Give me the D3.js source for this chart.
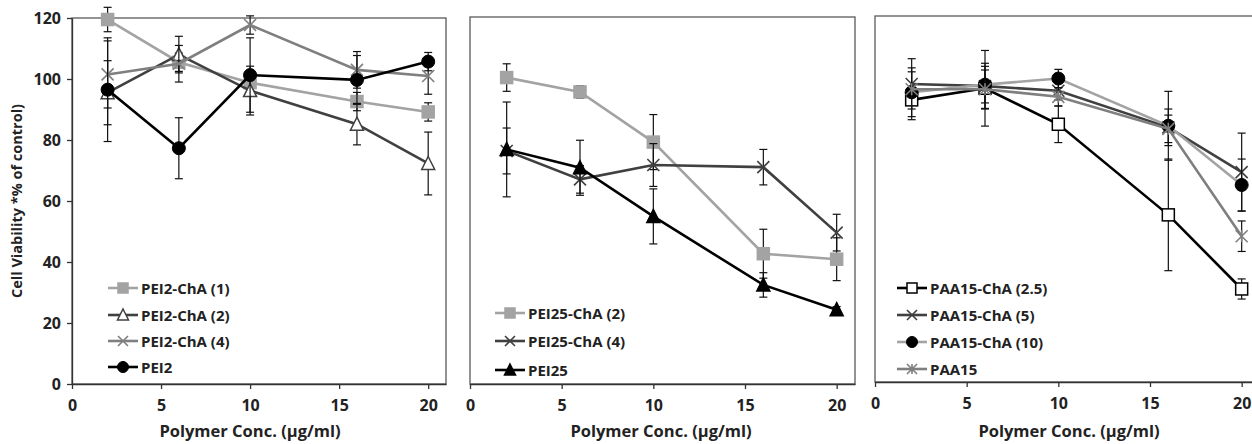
<!DOCTYPE html>
<html>
<head>
<meta charset="utf-8">
<script src="https://cdn.jsdelivr.net/npm/d3@7/dist/d3.min.js"></script>
<style>
  html, body { margin: 0; padding: 0; background: #fff; }
  svg { display: block; }
  text { font-family: "Open Sans", "Noto Sans", sans-serif; font-weight: 700; fill: #222; }
</style>
</head>
<body>
<svg id="chart" width="1252" height="444"></svg>
<script>
// ---------- DATA ----------
const xValues = [2, 6, 10, 16, 20];
const xTicks = [0, 5, 10, 15, 20];
const yTicks = [0, 20, 40, 60, 80, 100, 120];
const xTitle = "Polymer Conc. (µg/ml)";
const yTitle = "Cell Viability *% of control)";

// Panel 1
const pei2ChA1 = [119.5, 105.5, 98.8, 92.6, 89.2];
const pei2ChA1Err = [4, 3, 3, 3, 3];
const pei2ChA2 = [95.5, 108, 96.2, 85.2, 72.3];
const pei2ChA2Err = [10.5, 6, 8, 6.8, 10.3];
const pei2ChA4 = [101.5, 105, 117.7, 103, 101];
const pei2ChA4Err = [11, 6, 3, 6, 6];
const pei2 = [96.5, 77.3, 101.3, 99.7, 105.7];
const pei2Err = [17, 10, 12.2, 8, 3];

// Panel 2
const pei25ChA2 = [100.2, 95.5, 79.1, 42.6, 40.8];
const pei25ChA2Err = [4.5, 2, 9, 8, 7];
const pei25ChA4 = [76.2, 66.9, 71.6, 70.9, 49.5];
const pei25ChA4Err = [7.5, 4.5, 7, 5.8, 6];
const pei25 = [76.7, 70.7, 54.8, 32.4, 24.3];
const pei25Err = [15.5, 9, 9, 4, 1];

// Panel 3
const paa15ChA25 = [92.5, 96.3, 84.5, 54.8, 30.5];
const paa15ChA25Err = [3, 12.4, 6, 18.3, 3.3];
const paa15ChA5 = [97.7, 97, 95.5, 83.5, 68.8];
const paa15ChA5Err = [4, 7.5, 3, 6, 12.8];
const paa15ChA10 = [95, 97.5, 99.5, 84, 64.6];
const paa15ChA10Err = [8, 6, 3, 11.3, 8.5];
const paa15 = [96, 96, 93.5, 83, 47.8];
const paa15Err = [10, 6.3, 3, 4.5, 5];

const legend1 = ["PEI2-ChA (1)", "PEI2-ChA (2)", "PEI2-ChA (4)", "PEI2"];
const legend2 = ["PEI25-ChA (2)", "PEI25-ChA (4)", "PEI25"];
const legend3 = ["PAA15-ChA (2.5)", "PAA15-ChA (5)", "PAA15-ChA (10)", "PAA15"];

// ---------- STYLE / LAYOUT ----------
const LIGHT = "#a3a3a3", MID = "#7f7f7f", DARK = "#404040", BLACK = "#000";
const FONT = "'Open Sans', 'Noto Sans', sans-serif";

const panels = [
  {
    left: 72, right: 446, top: 18, bottom: 384, yAxis: true,
    legendX: 108, legendY: [288, 315, 341, 367], titleX: 250,
    series: [
      { name: legend1[0], vals: pei2ChA1, err: pei2ChA1Err, line: LIGHT, marker: "square", mFill: LIGHT, mStroke: LIGHT },
      { name: legend1[1], vals: pei2ChA2, err: pei2ChA2Err, line: DARK, marker: "triangle", mFill: "#fff", mStroke: DARK },
      { name: legend1[2], vals: pei2ChA4, err: pei2ChA4Err, line: MID, marker: "x", mFill: "none", mStroke: MID },
      { name: legend1[3], vals: pei2, err: pei2Err, line: BLACK, marker: "circle", mFill: BLACK, mStroke: BLACK }
    ]
  },
  {
    left: 470, right: 855, top: 17, bottom: 384, yAxis: false,
    legendX: 495, legendY: [313, 341, 370], titleX: 661,
    series: [
      { name: legend2[0], vals: pei25ChA2, err: pei25ChA2Err, line: LIGHT, marker: "square", mFill: LIGHT, mStroke: LIGHT },
      { name: legend2[1], vals: pei25ChA4, err: pei25ChA4Err, line: DARK, marker: "x", mFill: "none", mStroke: DARK },
      { name: legend2[2], vals: pei25, err: pei25Err, line: BLACK, marker: "triangle", mFill: BLACK, mStroke: BLACK }
    ]
  },
  {
    left: 875, right: 1260, top: 16, bottom: 382, yAxis: false,
    legendX: 897, legendY: [288, 315, 342, 369], titleX: 1069,
    series: [
      { name: legend3[0], vals: paa15ChA25, err: paa15ChA25Err, line: BLACK, marker: "square", mFill: "#fff", mStroke: BLACK },
      { name: legend3[1], vals: paa15ChA5, err: paa15ChA5Err, line: DARK, marker: "x", mFill: "none", mStroke: DARK },
      { name: legend3[2], vals: paa15ChA10, err: paa15ChA10Err, line: LIGHT, marker: "circle", mFill: BLACK, mStroke: BLACK },
      { name: legend3[3], vals: paa15, err: paa15Err, line: MID, marker: "asterisk", mFill: "none", mStroke: MID }
    ]
  }
];

const svg = d3.select("#chart");

function drawMarker(g, type, cx, cy, fill, stroke, size) {
  const h = size / 2;
  if (type === "square") {
    g.append("rect").attr("x", cx - h).attr("y", cy - h).attr("width", size).attr("height", size)
      .attr("fill", fill).attr("stroke", stroke).attr("stroke-width", 1.5);
  } else if (type === "circle") {
    g.append("circle").attr("cx", cx).attr("cy", cy).attr("r", h + 0.5)
      .attr("fill", fill).attr("stroke", stroke).attr("stroke-width", 1);
  } else if (type === "triangle") {
    const p = d3.path();
    p.moveTo(cx, cy - h - 1); p.lineTo(cx + h + 0.5, cy + h); p.lineTo(cx - h - 0.5, cy + h); p.closePath();
    g.append("path").attr("d", p.toString()).attr("fill", fill).attr("stroke", stroke).attr("stroke-width", 1.5);
  } else if (type === "x" || type === "asterisk") {
    const p = d3.path();
    p.moveTo(cx - h, cy - h); p.lineTo(cx + h, cy + h);
    p.moveTo(cx - h, cy + h); p.lineTo(cx + h, cy - h);
    if (type === "asterisk") { p.moveTo(cx, cy - h); p.lineTo(cx, cy + h); }
    g.append("path").attr("d", p.toString()).attr("fill", "none").attr("stroke", stroke).attr("stroke-width", 1.6);
  }
}

panels.forEach(pn => {
  const x = d3.scaleLinear().domain([0, 21]).range([pn.left, pn.right]);
  const y = d3.scaleLinear().domain([0, 120]).range([pn.bottom, pn.top]);
  const g = svg.append("g");

  // frame
  g.append("rect").attr("x", pn.left).attr("y", pn.top)
    .attr("width", pn.right - pn.left).attr("height", pn.bottom - pn.top)
    .attr("fill", "none").attr("stroke", "#5a5a5a").attr("stroke-width", 1.3);

  // x axis
  const xa = g.append("g").attr("transform", `translate(0,${pn.bottom})`)
    .call(d3.axisBottom(x).tickValues(xTicks).tickSize(5).tickSizeOuter(0).tickPadding(11));
  xa.select(".domain").attr("stroke", "#333").attr("stroke-width", 1.3);
  xa.selectAll(".tick line").attr("stroke", "#333").attr("stroke-width", 1.3);
  xa.selectAll(".tick text").attr("font-size", 16).attr("fill", "#222")
    .style("font-family", FONT).style("font-weight", 700);

  if (pn.yAxis) {
    const ya = g.append("g").attr("transform", `translate(${pn.left},0)`)
      .call(d3.axisLeft(y).tickValues(yTicks).tickSize(5).tickSizeOuter(0).tickPadding(6));
    ya.select(".domain").attr("stroke", "#333").attr("stroke-width", 1.3);
    ya.selectAll(".tick line").attr("stroke", "#333").attr("stroke-width", 1.3);
    ya.selectAll(".tick text").attr("font-size", 16).attr("fill", "#222")
      .style("font-family", FONT).style("font-weight", 700);
    svg.append("text").attr("transform", `translate(22,${(pn.top + pn.bottom) / 2}) rotate(-90)`)
      .attr("text-anchor", "middle").attr("font-size", 14.5).text(yTitle);
  }

  // x title
  svg.append("text").attr("x", pn.titleX).attr("y", 437).attr("text-anchor", "middle")
    .attr("font-size", 16.5).text(xTitle);

  // series
  const line = d3.line().x((d, i) => x(xValues[i])).y(d => y(d));
  pn.series.forEach(s => {
    const sg = g.append("g");
    // error bars
    s.vals.forEach((v, i) => {
      const cx = x(xValues[i]);
      const y1 = y(v + s.err[i]), y2 = y(v - s.err[i]);
      sg.append("line").attr("x1", cx).attr("x2", cx).attr("y1", y1).attr("y2", y2)
        .attr("stroke", "#111").attr("stroke-width", 1.2);
      [y1, y2].forEach(yy => sg.append("line").attr("x1", cx - 4).attr("x2", cx + 4)
        .attr("y1", yy).attr("y2", yy).attr("stroke", "#111").attr("stroke-width", 1.2));
    });
    sg.append("path").attr("d", line(s.vals)).attr("fill", "none")
      .attr("stroke", s.line).attr("stroke-width", 2.6);
    s.vals.forEach((v, i) => drawMarker(sg, s.marker, x(xValues[i]), y(v), s.mFill, s.mStroke, 12));
  });

  // legend
  pn.series.forEach((s, i) => {
    const ly = pn.legendY[i];
    const lg = svg.append("g");
    lg.append("line").attr("x1", pn.legendX).attr("x2", pn.legendX + 30).attr("y1", ly).attr("y2", ly)
      .attr("stroke", s.line).attr("stroke-width", 2.6);
    drawMarker(lg, s.marker, pn.legendX + 15, ly, s.mFill, s.mStroke, 10);
    lg.append("text").attr("x", pn.legendX + 33).attr("y", ly + 5.5).attr("font-size", 15).text(s.name);
  });
});
</script>
</body>
</html>
